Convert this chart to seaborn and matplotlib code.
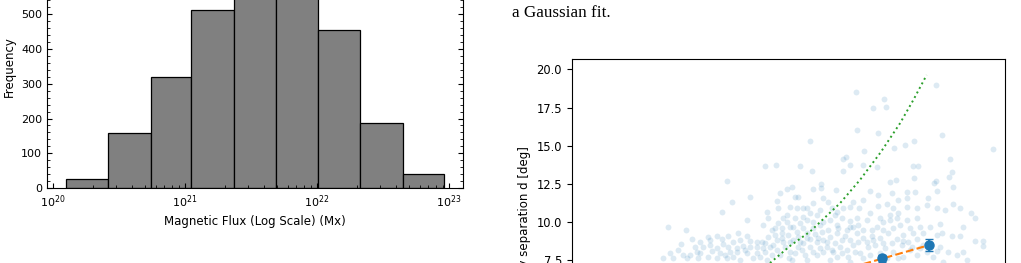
import numpy as np
import pandas as pd
import matplotlib
matplotlib.use("Agg")
import matplotlib.pyplot as plt
from matplotlib.ticker import AutoMinorLocator, MultipleLocator, FormatStrFormatter
import seaborn as sns

# ---------------- Histogram data (log10 bin edges of magnetic flux, counts) ----------------
flux_bin_edges_log10 = [20.10, 20.42, 20.74, 21.05, 21.37, 21.69, 22.01, 22.33, 22.65, 22.96]
flux_counts = [26, 159, 318, 510, 640, 665, 453, 188, 41]
hist_yticks = [0, 100, 200, 300, 400, 500, 600]

# ---------------- Scatter data: flux (arbitrary units) vs separation [deg] ----------------
sep_flux = [
    8.52, 9.05, 8.55, 9.18, 7.16, 8.76, 8.23, 8.13, 10.94, 9.37,
    9.42, 11.10, 10.27, 10.00, 9.66, 12.65, 11.36, 4.82, 5.80, 6.13,
    6.84, 7.20, 8.15, 8.35, 8.75, 9.15, 10.25, 10.40, 11.40, 11.32,
    10.27, 9.72, 9.55, 8.95, 9.19, 4.66, 6.45, 6.60, 7.23, 7.47,
    7.47, 7.93, 10.93, 10.87, 11.43, 10.95, 10.05, 10.30, 9.60, 9.80,
    10.07, 10.70, 5.35, 6.25, 6.70, 6.80, 7.55, 7.70, 7.25, 6.95,
    6.75, 6.55, 7.05, 6.20, 6.15, 5.85, 4.50, 5.25, 5.90, 6.45,
    6.70, 6.95, 7.35, 7.80, 8.15, 8.35, 8.63, 8.45, 8.75, 9.20,
    9.45, 9.65, 9.80, 10.05, 10.35, 10.65, 10.95, 11.20, 11.45, 11.65,
    11.98, 12.10, 11.75, 11.40, 11.65, 12.10, 12.35, 12.35, 2.90, 3.43,
    3.60, 3.27, 4.10, 4.35, 4.50, 4.70, 5.00, 5.25, 5.55, 5.70,
    5.90, 6.10, 6.30, 6.55, 6.75, 6.95, 7.25, 7.45, 7.75, 7.90,
    8.10, 8.35, 8.55, 8.85, 9.15, 9.35, 9.55, 10.05, 10.35, 10.75,
    11.05, 11.10, 10.95, 10.55, 10.25, 9.95, 9.50, 9.25, 9.00, 8.75,
    8.55, 8.20, 7.95, 7.75, 7.55, 7.35, 7.15, 6.95, 6.65, 6.35,
    6.15, 5.95, 5.75, 5.55, 5.35, 5.15, 4.95, 4.75, 4.55, 4.35,
    4.15, 3.95, 3.75, 3.55, 3.45, 3.80, 4.10, 4.35, 4.60, 4.85,
    5.05, 5.25, 5.65, 5.85, 6.25, 6.55, 6.80, 7.00, 7.25, 7.45,
    7.65, 7.85, 8.05, 8.25, 8.45, 8.65, 8.90, 9.10, 9.40, 9.60,
    9.90, 10.10, 10.35, 10.55, 11.05, 11.30, 11.55, 2.75, 3.05, 3.35,
    6.60, 7.05, 7.75, 8.35, 9.95, 10.35, 10.85, 11.15, 11.75, 11.85,
    3.85, 4.20, 4.45, 4.67, 4.97, 5.20, 5.45, 5.80, 6.00, 6.15,
    6.40, 6.53, 6.70, 6.90, 7.15, 7.35, 7.55, 7.80, 7.95, 8.10,
    8.30, 8.50, 8.75, 8.95, 9.25, 9.45, 9.65, 9.80, 10.15, 10.45,
    10.65, 10.95, 5.55, 5.80, 6.05, 6.30, 6.50, 6.80, 7.05, 7.30,
    7.50, 7.65, 7.90, 8.10, 8.35, 8.60, 8.85, 9.05, 9.35, 9.75,
    9.95, 10.20, 6.30, 6.55, 6.85, 7.05, 7.40, 7.70, 8.00, 8.25,
    8.45, 8.75, 9.00, 9.35, 9.65, 9.85, 10.15, 10.45, 6.10, 4.85,
    5.05, 5.35, 4.15, 3.85, 3.70, 3.20, 2.95, 4.70, 6.00, 6.20,
    6.45, 6.85, 7.05, 7.55, 7.25, 7.95, 8.35, 8.60, 9.25, 9.55,
    9.75, 8.95, 7.95, 7.45, 7.15, 6.65, 5.75, 6.35,
]
sep_deg = [
    18.50, 17.49, 16.04, 15.81, 15.28, 14.65, 14.23, 14.10, 18.96, 18.04,
    17.51, 15.70, 15.28, 15.04, 14.82, 14.76, 14.12, 11.33, 13.66, 13.73,
    13.66, 13.34, 13.34, 13.73, 13.73, 13.62, 13.66, 13.66, 13.25, 12.96,
    12.86, 12.75, 12.64, 12.03, 11.76, 12.68, 12.16, 12.31, 12.16, 12.46,
    12.20, 12.09, 12.68, 12.53, 12.31, 12.03, 11.98, 11.98, 11.87, 11.43,
    11.59, 11.59, 11.61, 11.87, 11.61, 11.61, 11.54, 11.33, 11.22, 10.89,
    10.89, 11.00, 10.93, 10.89, 11.37, 10.63, 10.67, 10.12, 10.23, 10.45,
    10.23, 10.34, 10.45, 10.89, 10.89, 11.00, 10.93, 11.33, 11.43, 11.06,
    11.15, 10.89, 10.56, 11.00, 10.89, 11.11, 10.89, 10.78, 11.15, 10.89,
    10.56, 10.23, 9.69, 9.07, 9.10, 8.75, 8.75, 8.44, 9.69, 9.47,
    8.88, 8.53, 9.03, 9.10, 8.88, 9.10, 9.25, 9.10, 8.66, 8.70,
    9.03, 9.58, 9.58, 9.69, 9.36, 9.58, 9.58, 9.80, 10.12, 10.45,
    10.23, 10.06, 10.23, 10.12, 9.69, 10.01, 10.12, 10.12, 10.23, 9.69,
    9.84, 9.25, 9.14, 9.25, 9.25, 9.14, 9.25, 8.92, 9.10, 8.96,
    9.25, 9.10, 9.25, 9.03, 8.81, 8.70, 8.88, 8.59, 8.81, 8.66,
    8.81, 8.37, 8.27, 7.94, 8.37, 8.44, 8.31, 8.05, 8.53, 8.27,
    8.49, 8.37, 8.05, 7.83, 7.61, 7.61, 7.72, 7.65, 7.83, 7.72,
    7.50, 7.94, 7.72, 7.50, 7.83, 8.05, 8.37, 7.83, 8.05, 8.27,
    8.37, 8.05, 8.37, 8.16, 8.49, 7.94, 8.37, 8.49, 8.27, 8.59,
    8.49, 8.70, 8.88, 8.49, 8.37, 8.05, 7.83, 7.61, 7.61, 7.83,
    7.50, 7.50, 7.50, 7.39, 7.72, 7.83, 7.72, 7.39, 8.00, 7.50,
    7.94, 8.09, 7.94, 7.61, 8.00, 8.16, 7.61, 8.00, 7.83, 8.16,
    8.37, 7.61, 7.94, 8.16, 8.37, 7.83, 8.00, 8.16, 7.72, 7.94,
    7.72, 8.00, 7.61, 7.83, 7.94, 7.61, 8.00, 7.61, 8.16, 8.27,
    8.00, 8.09, 8.37, 8.59, 8.49, 8.92, 9.14, 9.03, 9.25, 9.18,
    9.36, 8.70, 8.59, 8.81, 8.81, 8.70, 8.66, 8.81, 8.59, 8.88,
    8.75, 8.37, 9.25, 8.70, 8.70, 8.96, 8.92, 9.47, 9.58, 9.47,
    9.69, 9.47, 9.47, 9.47, 9.58, 9.80, 9.58, 9.69, 9.14, 8.70,
    8.81, 8.75, 8.81, 8.66, 8.37, 8.16, 7.94, 8.37, 9.47, 9.90,
    10.01, 9.90, 10.12, 10.01, 10.01, 9.80, 9.69, 9.80, 10.23, 10.45,
    10.23, 10.56, 10.67, 10.78, 10.56, 9.69, 9.80, 10.23,
]

# binned means with error bars
binned_flux = [9.30, 10.73]
binned_sep = [7.61, 8.48]
binned_err = [0.25, 0.37]

# fitted relation (orange dashed)
fit_flux = [8.60, 10.73]
fit_sep = [7.14, 8.48]

# model curve (green dotted)
model_flux = [5.95, 6.55, 7.15, 8.05, 8.65, 9.27, 9.85, 10.25, 10.65]
model_sep = [7.30, 8.42, 9.36, 11.22, 12.75, 14.56, 16.46, 17.99, 19.63]

caption_text = "a Gaussian fit."

# ---------------- Figure ----------------
fig = plt.figure(figsize=(10.21, 2.63), dpi=100)

# Left: histogram
ax1 = fig.add_axes([0.04603, 0.2840, 0.4074, 0.9289])
edges = [float(e) for e in flux_bin_edges_log10]
hist_df = pd.DataFrame({
    "flux": [10 ** ((a + b) / 2) for a, b in zip(edges[:-1], edges[1:])],
    "count": flux_counts,
})
sns.histplot(data=hist_df, x="flux", weights="count", bins=edges, log_scale=True, ax=ax1,
             color="#808080", edgecolor="black", linewidth=0.9, alpha=1.0)
ax1.set_xlim(10 ** 19.955, 10 ** 23.107)
ax1.set_ylim(0, 700)
ax1.set_yticks(hist_yticks)
ax1.yaxis.set_minor_locator(AutoMinorLocator(5))
ax1.tick_params(which="both", direction="in", top=True, right=True, labelsize=8)
ax1.set_xlabel("Magnetic Flux (Log Scale) (Mx)", fontsize=8.5)
ax1.set_ylabel("Frequency", fontsize=8.5)

# Right: scatter
ax2 = fig.add_axes([0.5599, -0.4867, 0.4244, 1.2635])
sns.scatterplot(x=sep_flux, y=sep_deg, color="C0", alpha=0.15, s=18, linewidth=0, ax=ax2)
sns.lineplot(x=model_flux, y=model_sep, color="C2", linestyle=":", linewidth=1.4, ax=ax2)
sns.lineplot(x=fit_flux, y=fit_sep, color="C1", linestyle="--", linewidth=1.5, ax=ax2)
ax2.errorbar(binned_flux, binned_sep, yerr=binned_err, fmt="o", color="C0",
             ms=6.5, capsize=3, elinewidth=1.3, zorder=5)
ax2.set_xlim(0, 13.0)
ax2.set_ylim(-1.09, 20.7)
ax2.yaxis.set_major_locator(MultipleLocator(2.5))
ax2.yaxis.set_major_formatter(FormatStrFormatter("%.1f"))
ax2.tick_params(labelsize=8.3)
ax2.set_ylabel("Polarity separation d [deg]", fontsize=8.5)

fig.text(0.5012, 0.935, caption_text, fontfamily="Liberation Serif", fontsize=12.3,
         va="baseline", ha="left")

fig.savefig("out.png", dpi=100)
